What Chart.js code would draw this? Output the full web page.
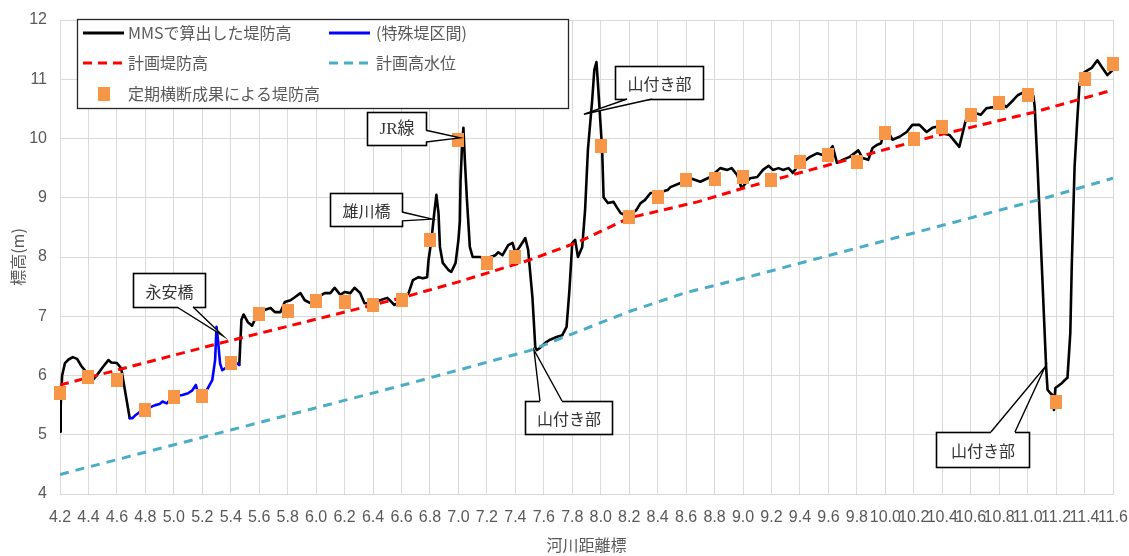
<!DOCTYPE html>
<html>
<head>
<meta charset="utf-8">
<script src="https://cdn.jsdelivr.net/npm/chart.js@4.4.0/dist/chart.umd.min.js"></script>
<style>
  html, body { margin: 0; padding: 0; background: #fff; }
  #wrap { width: 1129px; height: 556px; }
</style>
</head>
<body>
<div id="wrap"><canvas id="levee" width="1129" height="556"></canvas></div>
<script>
// tick labels
var xTicks = [4.2, 4.4, 4.6, 4.8, 5.0, 5.2, 5.4, 5.6, 5.8, 6.0, 6.2, 6.4, 6.6, 6.8, 7.0, 7.2, 7.4, 7.6, 7.8, 8.0,
  8.2, 8.4, 8.6, 8.8, 9.0, 9.2, 9.4, 9.6, 9.8, 10.0, 10.2, 10.4, 10.6, 10.8, 11.0, 11.2, 11.4, 11.6];
var yTicks = [4, 5, 6, 7, 8, 9, 10, 11, 12];

// MMSで算出した堤防高 (前半)
var mmsKmA = [4.20, 4.205, 4.215, 4.235, 4.26, 4.29, 4.32, 4.35, 4.39, 4.43, 4.47, 4.50, 4.54, 4.56, 4.60, 4.63, 4.66, 4.69];
var mmsHA  = [5.05, 5.50, 6.00, 6.21, 6.27, 6.31, 6.28, 6.16, 6.04, 5.92, 6.04, 6.14, 6.26, 6.22, 6.21, 6.12, 5.70, 5.28];

// (特殊堤区間)
var tokuKm = [4.69, 4.71, 4.73, 4.77, 4.80, 4.84, 4.87, 4.90, 4.92, 4.95, 4.97, 4.99, 5.03, 5.06, 5.10, 5.13, 5.155, 5.17,
  5.20, 5.24, 5.27, 5.29, 5.30, 5.31, 5.325, 5.34, 5.36, 5.39, 5.44, 5.46];
var tokuH  = [5.28, 5.28, 5.33, 5.40, 5.45, 5.47, 5.50, 5.52, 5.56, 5.53, 5.58, 5.64, 5.66, 5.67, 5.70, 5.75, 5.84, 5.70,
  5.64, 5.79, 5.92, 6.26, 6.82, 6.60, 6.20, 6.09, 6.12, 6.18, 6.21, 6.18];

// MMSで算出した堤防高 (後半)
var mmsKmB = [5.46, 5.475, 5.49, 5.52, 5.55, 5.57, 5.60, 5.63, 5.68, 5.71, 5.75, 5.78, 5.82, 5.85, 5.89, 5.92, 5.96,
  6.01, 6.06, 6.10, 6.13, 6.17, 6.20, 6.24, 6.27, 6.31, 6.34, 6.39, 6.45, 6.50, 6.53, 6.55, 6.60, 6.65, 6.68, 6.72,
  6.75, 6.78, 6.79, 6.81, 6.83, 6.845, 6.86, 6.87, 6.89, 6.93, 6.95, 6.98, 7.00, 7.01, 7.015, 7.025, 7.035, 7.045,
  7.06, 7.08, 7.10, 7.15, 7.20, 7.26, 7.28, 7.31, 7.35, 7.38, 7.40, 7.43, 7.47, 7.49, 7.52, 7.54, 7.55, 7.57, 7.61,
  7.64, 7.69, 7.73, 7.76, 7.78, 7.80, 7.82, 7.84, 7.87, 7.89, 7.91, 7.94, 7.955, 7.97, 7.98, 8.01, 8.02, 8.05, 8.09,
  8.11, 8.14, 8.17, 8.22, 8.25, 8.28, 8.31, 8.35, 8.40, 8.47, 8.49, 8.56, 8.63, 8.70, 8.77, 8.84, 8.89, 8.92, 8.96,
  8.99, 9.01, 9.05, 9.10, 9.14, 9.18, 9.21, 9.25, 9.28, 9.32, 9.35, 9.38, 9.42, 9.47, 9.52, 9.56, 9.60, 9.63, 9.66,
  9.70, 9.75, 9.81, 9.84, 9.88, 9.91, 9.94, 9.97, 9.985, 10.02, 10.05, 10.10, 10.15, 10.19, 10.24, 10.29, 10.33,
  10.36, 10.40, 10.45, 10.52, 10.56, 10.59, 10.63, 10.67, 10.71, 10.76, 10.81, 10.85, 10.90, 10.93, 10.97, 11.02,
  11.04, 11.05, 11.07, 11.09, 11.11, 11.13, 11.14, 11.16, 11.175, 11.185, 11.195, 11.24, 11.26, 11.28, 11.30, 11.31,
  11.33, 11.35, 11.365, 11.40, 11.45, 11.49, 11.52, 11.56, 11.60];
var mmsHB  = [6.18, 6.94, 7.03, 6.90, 6.84, 6.95, 7.07, 7.10, 7.14, 7.07, 7.07, 7.24, 7.27, 7.32, 7.39, 7.27, 7.22,
  7.32, 7.39, 7.39, 7.48, 7.36, 7.41, 7.39, 7.48, 7.39, 7.22, 7.22, 7.27, 7.31, 7.24, 7.19, 7.27, 7.39, 7.61, 7.66,
  7.64, 7.66, 7.95, 8.29, 8.74, 9.05, 8.74, 8.17, 7.90, 7.78, 7.75, 7.90, 8.29, 8.60, 9.30, 9.86, 10.18, 9.64,
  8.96, 8.17, 8.00, 8.00, 7.98, 8.03, 8.08, 8.03, 8.20, 8.24, 8.07, 8.17, 8.32, 8.12, 7.32, 6.48, 6.43, 6.46, 6.55,
  6.60, 6.65, 6.68, 6.82, 7.44, 8.24, 8.29, 8.00, 8.17, 8.79, 9.81, 10.65, 11.16, 11.29, 10.94, 9.81, 9.01, 8.91, 8.93,
  8.85, 8.74, 8.71, 8.74, 8.79, 8.91, 8.96, 9.08, 9.08, 9.13, 9.18, 9.25, 9.33, 9.27, 9.35, 9.50, 9.47, 9.50, 9.38,
  9.16, 9.22, 9.33, 9.35, 9.47, 9.54, 9.47, 9.50, 9.47, 9.50, 9.42, 9.52, 9.60, 9.69, 9.75, 9.72, 9.77, 9.87, 9.59,
  9.64, 9.69, 9.80, 9.67, 9.64, 9.84, 9.89, 9.92, 10.06, 10.11, 9.98, 10.03, 10.11, 10.23, 10.23, 10.11, 10.18,
  10.20, 10.09, 10.06, 9.86, 10.26, 10.48, 10.43, 10.40, 10.51, 10.53, 10.62, 10.53, 10.65, 10.73, 10.78, 10.80,
  10.72, 10.53, 9.52, 8.40, 7.27, 6.14, 5.76, 5.70, 5.67, 5.42, 5.79, 5.87, 5.92, 5.96, 6.72, 7.83,
  9.52, 10.36, 10.93, 11.12, 11.19, 11.32, 11.21, 11.07, 11.16];

// 計画堤防高
var planKm = [4.2, 5.3, 6.6, 7.0, 7.5, 7.84, 8.2, 8.68, 9.0, 10.36, 11.04, 11.6];
var planH  = [5.84, 6.53, 7.31, 7.58, 7.95, 8.25, 8.66, 8.93, 9.16, 10.05, 10.44, 10.82];

// 計画高水位
var hwlKm = [4.2, 5.4, 6.6, 7.5, 8.2, 8.6, 9.0, 11.1, 11.6];
var hwlH  = [4.33, 5.08, 5.83, 6.42, 7.08, 7.40, 7.64, 8.98, 9.33];

// 定期横断成果による堤防高
var crossKm = [4.2, 4.4, 4.6, 4.8, 5.0, 5.2, 5.4, 5.6, 5.8, 6.0, 6.2, 6.4, 6.6, 6.8, 7.0, 7.2, 7.4, 8.0, 8.2, 8.4,
  8.6, 8.8, 9.0, 9.2, 9.4, 9.6, 9.8, 10.0, 10.2, 10.4, 10.6, 10.8, 11.0, 11.2, 11.4, 11.6];
var crossH  = [5.70, 5.97, 5.92, 5.42, 5.64, 5.65, 6.21, 7.04, 7.09, 7.26, 7.24, 7.19, 7.28, 8.29, 9.97, 7.90, 8.00,
  9.87, 8.67, 9.01, 9.30, 9.31, 9.35, 9.30, 9.60, 9.72, 9.60, 10.09, 10.00, 10.20, 10.40, 10.60, 10.73, 5.55, 11.00, 11.26];

// 吹き出し (データ座標)
var callouts = [
  { text: '永安橋', box: [4.713, 7.73, 5.218, 7.156], edge: 'bottom', base: [[5.022, 7.156], [5.135, 7.156]], tip: [5.345, 6.67] },
  { text: '雄川橋', box: [6.097, 9.08, 6.603, 8.523], edge: 'right', base: [[6.603, 8.76], [6.603, 8.61]], tip: [6.814, 8.64] },
  { text: 'JR線', box: [6.357, 10.447, 6.772, 9.89], edge: 'right', base: [[6.772, 10.14], [6.772, 9.94]], tip: [7.011, 10.01], serif: true },
  { text: '山付き部', box: [8.10, 11.22, 8.719, 10.667], edge: 'bottom', base: [[8.185, 10.667], [8.36, 10.667]], tip: [7.882, 10.41] },
  { text: '山付き部', box: [7.468, 5.57, 8.079, 5.013], edge: 'top', base: [[7.573, 5.57], [7.728, 5.57]], tip: [7.531, 6.43] },
  { text: '山付き部', box: [10.356, 5.046, 11.01, 4.456], edge: 'top', base: [[10.742, 5.046], [10.911, 5.046]], tip: [11.122, 6.143] }
];

function pairs(xs, ys) {
  return xs.map(function (x, i) { return { x: x, y: ys[i] }; });
}

var GRID = '#D9D9D9';
var TXT = '#595959';
var JP = '"Noto Sans CJK JP", "Noto Sans", sans-serif';
var NUM = '"Liberation Sans Narrow", "Liberation Sans", sans-serif';

// orange marker (slightly taller than wide, as in the original)
var marker = document.createElement('canvas');
marker.width = 12; marker.height = 14;
var mctx = marker.getContext('2d');
mctx.fillStyle = '#F79646';
mctx.fillRect(0, 0, 12, 14);

var overlay = {
  id: 'overlay',
  afterDraw: function (chart) {
    var ctx = chart.ctx, xs = chart.scales.x, ys = chart.scales.y;
    function P(p) { return [xs.getPixelForValue(p[0]), ys.getPixelForValue(p[1])]; }
    ctx.save();

    // callouts
    callouts.forEach(function (c) {
      var a = P([c.box[0], c.box[1]]), b = P([c.box[2], c.box[3]]);
      var x0 = Math.round(a[0]) + 0.5, y0 = Math.round(a[1]) + 0.5, x1 = Math.round(b[0]) + 0.5, y1 = Math.round(b[1]) + 0.5;
      var b1 = P(c.base[0]), b2 = P(c.base[1]), t = P(c.tip);
      ctx.fillStyle = '#fff';
      ctx.fillRect(x0, y0, x1 - x0, y1 - y0);
      ctx.strokeStyle = '#000';
      ctx.lineWidth = 1.6;
      ctx.strokeRect(x0, y0, x1 - x0, y1 - y0);
      // wedge, pushed into the box a little so the border gap is hidden
      var dx = 0, dy = 0;
      if (c.edge === 'bottom') dy = -2;
      if (c.edge === 'top') dy = 2;
      if (c.edge === 'right') dx = -2;
      ctx.beginPath();
      ctx.moveTo(b1[0] + dx, b1[1] + dy);
      ctx.lineTo(b1[0], b1[1]);
      ctx.lineTo(t[0], t[1]);
      ctx.lineTo(b2[0], b2[1]);
      ctx.lineTo(b2[0] + dx, b2[1] + dy);
      ctx.closePath();
      ctx.fill();
      ctx.lineWidth = 1.4;
      ctx.beginPath();
      ctx.moveTo(b1[0], b1[1]);
      ctx.lineTo(t[0], t[1]);
      ctx.lineTo(b2[0], b2[1]);
      ctx.stroke();
      ctx.fillStyle = '#333';
      ctx.font = c.serif ? '17px "Liberation Serif", "Noto Sans CJK JP", serif' : '16px ' + JP;
      ctx.textAlign = 'center';
      ctx.textBaseline = 'middle';
      ctx.fillText(c.text, (x0 + x1) / 2, (y0 + y1) / 2 + 1);
    });

    // legend box
    ctx.fillStyle = '#fff';
    ctx.fillRect(77.5, 19.5, 491, 89);
    ctx.strokeStyle = '#262626';
    ctx.lineWidth = 1.3;
    ctx.strokeRect(77.5, 19.5, 491, 89);

    function sample(x, y, color, dash) {
      ctx.beginPath();
      ctx.setLineDash(dash || []);
      ctx.strokeStyle = color;
      ctx.lineWidth = 3;
      ctx.moveTo(x, y);
      ctx.lineTo(x + 41, y);
      ctx.stroke();
      ctx.setLineDash([]);
    }
    sample(83, 33, '#000');
    sample(329, 33, '#0000FF');
    sample(83, 63, '#FF0000', [9, 6]);
    sample(329, 63, '#4BACC6', [9, 6]);
    ctx.drawImage(marker, 98, 87);

    ctx.fillStyle = TXT;
    ctx.font = '16px ' + JP;
    ctx.textAlign = 'left';
    ctx.textBaseline = 'middle';
    ctx.fillText('MMSで算出した堤防高', 128, 33);
    ctx.fillText('(特殊堤区間)', 376, 33);
    ctx.fillText('計画堤防高', 128, 63);
    ctx.fillText('計画高水位', 376, 63);
    ctx.fillText('定期横断成果による堤防高', 128, 94);
    ctx.restore();
  }
};

var lineBase = { showLine: true, pointRadius: 0, tension: 0, borderJoinStyle: 'round', borderCapStyle: 'round' };
function ds(extra) {
  var o = {};
  Object.keys(lineBase).forEach(function (k) { o[k] = lineBase[k]; });
  Object.keys(extra).forEach(function (k) { o[k] = extra[k]; });
  return o;
}

new Chart(document.getElementById('levee').getContext('2d'), {
  type: 'scatter',
  data: {
    datasets: [
      ds({ label: 'MMSで算出した堤防高', data: pairs(mmsKmA, mmsHA), borderColor: '#000', borderWidth: 2.6, order: 4 }),
      ds({ label: 'MMSで算出した堤防高', data: pairs(mmsKmB, mmsHB), borderColor: '#000', borderWidth: 2.6, order: 4 }),
      ds({ label: '(特殊堤区間)', data: pairs(tokuKm, tokuH), borderColor: '#0000FF', borderWidth: 2.6, order: 3 }),
      ds({ label: '計画堤防高', data: pairs(planKm, planH), borderColor: '#FF0000', borderWidth: 3, borderDash: [9, 6], borderCapStyle: 'butt', order: 2 }),
      ds({ label: '計画高水位', data: pairs(hwlKm, hwlH), borderColor: '#4BACC6', borderWidth: 3, borderDash: [9, 7], borderCapStyle: 'butt', order: 1 }),
      { label: '定期横断成果による堤防高', data: pairs(crossKm, crossH), showLine: false, pointStyle: marker, pointRadius: 7,
        backgroundColor: '#F79646', borderWidth: 0, clip: false, order: 0 }
    ]
  },
  options: {
    responsive: false,
    animation: false,
    events: [],
    layout: { padding: { top: 20, right: 16, left: 0, bottom: 0 } },
    plugins: { legend: { display: false }, tooltip: { enabled: false } },
    scales: {
      x: {
        type: 'linear', min: 4.2, max: 11.6,
        afterBuildTicks: function (s) { s.ticks = xTicks.map(function (v) { return { value: v }; }); },
        afterFit: function (s) { s.height = 62; s.paddingLeft = 0; s.paddingRight = 0; },
        grid: { color: GRID, drawTicks: false, lineWidth: 1 },
        border: { color: GRID },
        ticks: { autoSkip: false, maxRotation: 0, padding: 14, color: TXT, font: { family: NUM, size: 16 },
          callback: function (v) { return Number(v).toFixed(1); } },
        title: { display: true, text: '河川距離標', color: TXT, font: { family: JP, size: 16 }, padding: { top: 0, bottom: 1 } }
      },
      y: {
        min: 4, max: 12,
        afterBuildTicks: function (s) { s.ticks = yTicks.map(function (v) { return { value: v }; }); },
        afterFit: function (s) { s.width = 60; s.paddingTop = 0; s.paddingBottom = 0; },
        grid: { color: GRID, drawTicks: false, lineWidth: 1 },
        border: { color: GRID },
        ticks: { padding: 13, color: TXT, font: { family: NUM, size: 16 } },
        title: { display: true, text: '標高(m)', color: TXT, font: { family: JP, size: 16 }, padding: { top: 8, bottom: 0 } }
      }
    }
  },
  plugins: [overlay]
});
</script>
</body>
</html>
